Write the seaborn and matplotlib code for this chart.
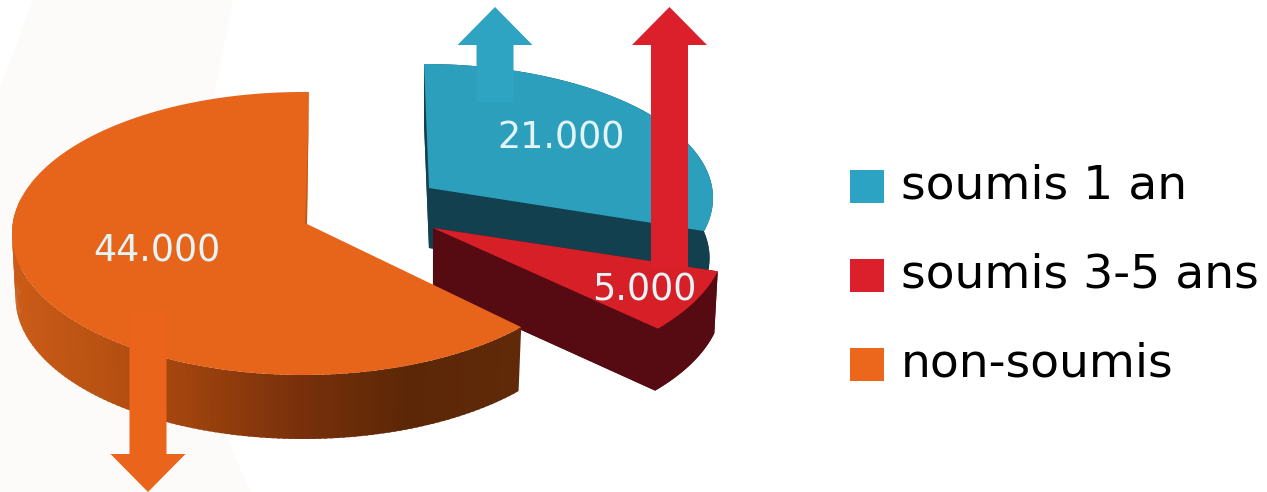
import numpy as np
import seaborn as sns
import matplotlib.pyplot as plt
from matplotlib.colors import LinearSegmentedColormap
from matplotlib.legend_handler import HandlerPatch
from matplotlib.patches import FancyArrow, Patch, Polygon

categories = ["soumis 1 an", "soumis 3-5 ans", "non-soumis"]
values = [21000, 5000, 44000]
top_colors = ["#2c9fbd", "#d71f28", "#e7641b"]
side_colors = ["#13404e", "#560a11", "#5c2707"]
legend_colors = ["#2ca3c2", "#dc202b", "#ec661b"]

# pixel layout of each exploded slice
vertex = [(429, 188), (433, 228), (307, 224)]
rim_center = [(424, 198), (430, 238), (303, 233.5)]
rim_radii = [(289, 134), (296, 142), (291, 141.5)]
lean = [-0.04, 0, 0.015]
depth = [60, 62, 64]
tilt = [0.485, 0.468, 0.5]
SHRINK = 0.988

sns.set_theme(style="white")
plt.rcParams["font.family"] = ["DejaVu Sans"]

fig, ax = plt.subplots(figsize=(12.67, 4.92), dpi=100)
fig.subplots_adjust(0, 0, 1, 1)
ax.set_xlim(0, 1267)
ax.set_ylim(492, 0)
ax.axis("off")


def top_face(i, a0, a1):
    # rim points found by shooting rays from the vertex at the slice's angles
    vx, vy = vertex[i]
    cx, cy = rim_center[i]
    rx, ry = rim_radii[i]
    pts = []
    for a in np.radians(np.linspace(a0, a1, 400)):
        dx = np.cos(a) + lean[i] * tilt[i] * np.sin(a)
        dy = -tilt[i] * np.sin(a)
        ex, ey = (vx - cx) / rx, (vy - cy) / ry
        fx, fy = dx * 295 / rx, dy * 295 / ry
        qa = fx**2 + fy**2
        qb = 2 * (ex * fx + ey * fy)
        qc = ex**2 + ey**2 - 1
        s = (-qb + np.sqrt(qb**2 - 4 * qa * qc)) / (2 * qa)
        pts.append((vx + s * dx * 295, vy + s * dy * 295))
    return np.array(pts)


def drop(i, pts):
    out = np.array(pts, dtype=float)
    cx = rim_center[i][0]
    out[:, 0] = cx + (out[:, 0] - cx) * SHRINK
    out[:, 1] += depth[i]
    return out


orange_ramp = LinearSegmentedColormap.from_list(
    "side",
    [(0, "#cb5c18"), (0.22, "#b44f11"), (0.3, "#a8470f"), (0.56, "#7a310b"),
     (0.78, "#5c2707"), (1, "#602a09")],
)

background = [(33, 0), (233, 0), (215, 90), (228, 440), (250, 492), (0, 492), (0, 88)]
ax.add_patch(Polygon(background, fc="#fcfbf9", ec="none", zorder=0))

shares = np.array(values) / sum(values) * 360
start = 90.0
for i, share in enumerate(shares):
    end = start - share
    rim = top_face(i, start, end)
    v = np.array([vertex[i]], dtype=float)
    low_rim, low_v = drop(i, rim), drop(i, v)
    z = 2 + i * 2
    # extruded wall
    if i == 2:
        for k in range(0, len(rim) - 1, 2):
            if rim[k, 1] < 200:
                continue
            j = min(k + 3, len(rim) - 1)
            quad = [rim[k], rim[j], low_rim[j], low_rim[k]]
            ax.add_patch(Polygon(quad, fc=orange_ramp((rim[k, 0] - 12) / 510), ec="none", zorder=z))
        # only a thin lit sliver shows on the big slice
        sliver = [rim[-1], v[0], v[0] + (-2, 0), rim[-1] + (-1, 40)]
        ax.add_patch(Polygon(sliver, fc="#c05a18", ec="none", zorder=z + 2))
    else:
        c = side_colors[i]
        walls = [np.vstack([low_v, low_rim]), np.vstack([rim, low_rim[::-1]])]
        for edge in (rim[0], rim[-1]):
            walls.append(np.array([v[0], edge, drop(i, [edge])[0], low_v[0]]))
        for wall in walls:
            ax.add_patch(Polygon(wall, fc=c, ec="none", zorder=z))
    ax.add_patch(Polygon(np.vstack([v, rim]), fc=top_colors[i], ec="none", zorder=z + 1))
    start = end

# arrows: (x, tail y, tip y)
arrow_x = [495, 669.5, 148]
arrow_tail = [102, 268, 312]
arrow_tip = [7, 7, 492]
arrow_colors = ["#2ea4c2", "#db202b", "#ea651b"]
for x, tail, tip, c in zip(arrow_x, arrow_tail, arrow_tip, arrow_colors):
    ax.add_patch(FancyArrow(x, tail, 0, tip - tail, width=37, head_width=75, head_length=38,
                            length_includes_head=True, fc=c, ec="none", zorder=9))

label_pos = [(561, 138), (644, 290), (156.5, 251)]
for (x, y), val in zip(label_pos, values):
    ax.text(x, y, f"{val:,}".replace(",", "."), color="#e3f4f7", fontsize=26.3,
            ha="center", va="center", zorder=10)

handles = [Patch(fc=c, ec="none", label=n) for c, n in zip(legend_colors, categories)]
ax.legend(handles=handles, loc="center left", bbox_to_anchor=(850 / 1267, 1 - 275 / 492),
          frameon=False, fontsize=34, handlelength=0.72, handleheight=0.405, handletextpad=0.36,
          labelspacing=0.933, borderpad=0, borderaxespad=0, labelcolor="black",
          handler_map={Patch: HandlerPatch(ypad=-0.202)})

fig.savefig("out.png", dpi=100)
